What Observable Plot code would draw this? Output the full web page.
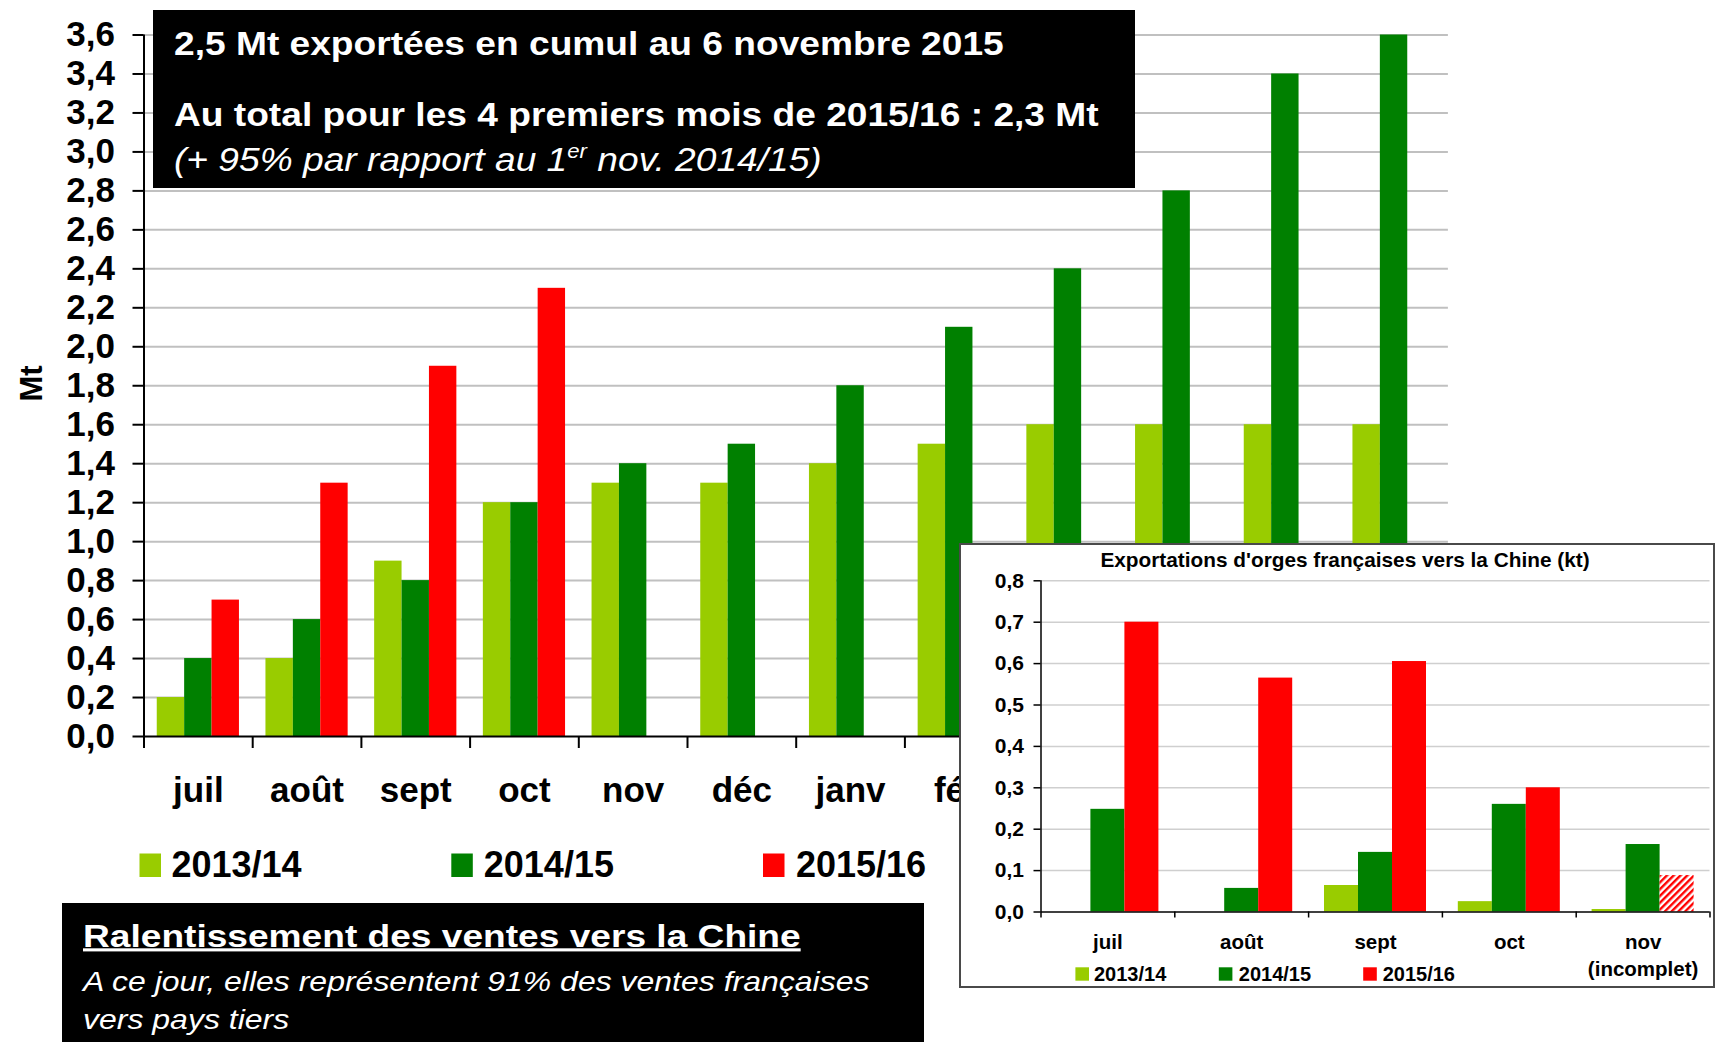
<!DOCTYPE html>
<html>
<head>
<meta charset="utf-8">
<script src="https://cdn.jsdelivr.net/npm/d3@7"></script>
<script src="https://cdn.jsdelivr.net/npm/@observablehq/plot@0.6"></script>
<style>
html, body { margin: 0; padding: 0; background: #fff; }
#root { position: relative; width: 1715px; height: 1042px; overflow: hidden; background: #fff;
  font-family: "Liberation Sans", Arial, Helvetica, sans-serif; }
#root > * { position: absolute; }
</style>
</head>
<body>
<div id="root"></div>
<script>
// ---------------- DATA ----------------
// Main chart: cumulative French barley exports to third countries (Mt)
const months = ["juil", "août", "sept", "oct", "nov", "déc", "janv", "fév", "mars", "avr", "mai", "juin"];
const seasons = ["2013/14", "2014/15", "2015/16"];
const seasonColors = ["#99cc00", "#008000", "#ff0000"];
const cumul1314 = [0.2, 0.4, 0.9, 1.2, 1.3, 1.3, 1.4, 1.5, 1.6, 1.6, 1.6, 1.6];
const cumul1415 = [0.4, 0.6, 0.8, 1.2, 1.4, 1.5, 1.8, 2.1, 2.4, 2.8, 3.4, 3.6];
const cumul1516 = [0.7, 1.3, 1.9, 2.3, null, null, null, null, null, null, null, null];
const yTicks = [0, 0.2, 0.4, 0.6, 0.8, 1.0, 1.2, 1.4, 1.6, 1.8, 2.0, 2.2, 2.4, 2.6, 2.8, 3.0, 3.2, 3.4, 3.6];

// Inset: exports to China (kt)
const chinaMonths = ["juil", "août", "sept", "oct", "nov"];
const chinaMonthLabels = ["juil", "août", "sept", "oct", "nov\n(incomplet)"];
const china1314 = [0, 0, 0.064, 0.025, 0.006];
const china1415 = [0.248, 0.057, 0.144, 0.26, 0.163];
const china1516 = [0.70, 0.565, 0.605, 0.30, 0.088];
const china1516Incomplete = [false, false, false, false, true];
const chinaTicks = [0, 0.1, 0.2, 0.3, 0.4, 0.5, 0.6, 0.7, 0.8];

// Texts
const box1Line1 = "2,5 Mt exportées en cumul au 6 novembre 2015";
const box1Line2 = "Au total pour les 4 premiers mois de 2015/16 : 2,3 Mt";
const box1Line3a = "(+ 95% par rapport au 1";
const box1Line3sup = "er";
const box1Line3b = " nov. 2014/15)";
const box2Title = "Ralentissement des ventes vers la Chine";
const box2Line1 = "A ce jour, elles représentent 91% des ventes françaises";
const box2Line2 = "vers pays tiers";
const yLabel = "Mt";
const insetTitle = "Exportations d'orges françaises vers la Chine (kt)";

// ---------------- SETUP ----------------
const FONT = '"Liberation Sans", Arial, Helvetica, sans-serif';
const root = d3.select("#root");
const fmt = d => d.toFixed(1).replace(".", ",");

// hatch pattern for the incomplete month
const defsSvg = root.append("svg").attr("width", 0).attr("height", 0).style("left", "0px").style("top", "0px");
const pat = defsSvg.append("defs").append("pattern")
  .attr("id", "hatch").attr("patternUnits", "userSpaceOnUse")
  .attr("width", 4.8).attr("height", 4.8).attr("patternTransform", "rotate(45)");
pat.append("rect").attr("width", 4.8).attr("height", 4.8).attr("fill", "#ffffff");
pat.append("rect").attr("width", 2.4).attr("height", 4.8).attr("fill", "#ff0000");

// ---------------- MAIN CHART ----------------
const mW = 1460, mH = 830, mLeft = 143.5, mRight = 12.1, mTop = 34.5, mBase = 736;
const mStep = (mW - mLeft - mRight) / months.length;
const mBarW = 27.4;
const mainSeries = [cumul1314, cumul1415, cumul1516];
const mainRows = seasons.map((s, k) =>
  mainSeries[k].map((v, i) => ({season: s, month: months[i], value: v})).filter(d => d.value != null));

const mainPlot = Plot.plot({
  width: mW, height: mH,
  marginLeft: mLeft, marginRight: mRight, marginTop: mTop, marginBottom: mH - mBase,
  style: {fontFamily: FONT, fontSize: "35px", fontWeight: "bold", color: "#000", background: "transparent"},
  x: {domain: months, padding: 0, round: false, axis: null},
  y: {domain: [0, 3.6], nice: false},
  color: {domain: seasons, range: seasonColors},
  marks: [
    Plot.ruleY(yTicks.filter(t => t > 0), {y: d => d, stroke: "#c0c0c0", strokeWidth: 2}),
    ...mainRows.map((rows, k) => Plot.barY(rows, {
      x: "month", y: "value", fill: "season",
      insetLeft: (mStep - mBarW) / 2, insetRight: (mStep - mBarW) / 2, dx: (k - 1) * mBarW
    })),
    Plot.ruleY([0], {y: d => d, stroke: "#000", strokeWidth: 2}),
    Plot.ruleX([months[0]], {x: d => d, dx: -mStep / 2, insetBottom: -12, stroke: "#000", strokeWidth: 2}),
    Plot.ruleX(months, {x: d => d, dx: mStep / 2, insetTop: mBase - mTop, insetBottom: -12, stroke: "#000", strokeWidth: 2}),
    Plot.axisY({ticks: yTicks, tickFormat: fmt, tickSize: 11, tickPadding: 18, strokeWidth: 2, label: null}),
    Plot.text(months, {x: d => d, text: d => d, frameAnchor: "bottom", lineAnchor: "top", dy: 41})
  ]
});
d3.select(mainPlot).style("left", "0px").style("top", "0px");
root.node().appendChild(mainPlot);

// ---------------- INSET CHART ----------------
const iX = 959, iY = 543, iW = 756, iH = 445;
const iLeft = 81.5, iRight = 5.5, iTop = 37.3, iBase = 368.5;
const iStep = (iW - iLeft - iRight) / chinaMonths.length;
const iBarW = 34;
const chinaSeries = [china1314, china1415, china1516];
const chinaRows = seasons.map((s, k) =>
  chinaSeries[k].map((v, i) => ({season: s, month: chinaMonths[i], value: v,
    incomplete: k === 2 ? china1516Incomplete[i] : false})));

const insetPlot = Plot.plot({
  width: iW, height: iH,
  marginLeft: iLeft, marginRight: iRight, marginTop: iTop, marginBottom: iH - iBase,
  style: {fontFamily: FONT, fontSize: "21px", fontWeight: "bold", color: "#000", background: "#fff"},
  x: {domain: chinaMonths, padding: 0, round: false, axis: null},
  y: {domain: [0, 0.8], nice: false},
  color: {domain: seasons, range: seasonColors},
  marks: [
    Plot.ruleY(chinaTicks.filter(t => t > 0), {y: d => d, stroke: "#cfcfcf", strokeWidth: 1.5}),
    ...chinaRows.map((rows, k) => Plot.barY(rows.filter(d => !d.incomplete), {
      x: "month", y: "value", fill: "season",
      insetLeft: (iStep - iBarW) / 2, insetRight: (iStep - iBarW) / 2, dx: (k - 1) * iBarW
    })),
    Plot.barY(chinaRows[2].filter(d => d.incomplete), {
      x: "month", y: "value", fill: "url(#hatch)",
      insetLeft: (iStep - iBarW) / 2, insetRight: (iStep - iBarW) / 2, dx: iBarW
    }),
    Plot.ruleY([0], {y: d => d, stroke: "#000", strokeWidth: 1.5}),
    Plot.ruleX([chinaMonths[0]], {x: d => d, dx: -iStep / 2, insetBottom: -6, stroke: "#000", strokeWidth: 1.5}),
    Plot.ruleX(chinaMonths, {x: d => d, dx: iStep / 2, insetTop: iBase - iTop, insetBottom: -6, stroke: "#000", strokeWidth: 1.5}),
    Plot.axisY({ticks: chinaTicks, tickFormat: fmt, tickSize: 7, tickPadding: 10, strokeWidth: 1.5, label: null}),
    Plot.text(chinaMonths, {x: d => d, text: (d, i) => chinaMonthLabels[i], frameAnchor: "bottom",
      lineAnchor: "top", dy: 18.5, lineHeight: 1.3, fontSize: 20.5})
  ]
});
d3.select(insetPlot).style("left", iX + "px").style("top", iY + "px");
root.node().appendChild(insetPlot);

root.append("div")
  .style("left", iX + "px").style("top", iY + "px")
  .style("width", iW + "px").style("height", iH + "px")
  .style("box-sizing", "border-box").style("border", "2px solid #4a4a4a")
  .style("background", "transparent");

// ---------------- OVERLAY: boxes, legends, labels ----------------
const ov = root.append("svg").attr("width", 1715).attr("height", 1042)
  .style("left", "0px").style("top", "0px").style("font-family", FONT);

// Y label
ov.append("text").attr("transform", "translate(41.5,383.5) rotate(-90)")
  .attr("text-anchor", "middle").attr("font-size", 31).attr("font-weight", "bold").text(yLabel);

// Top black box
ov.append("rect").attr("x", 153).attr("y", 10).attr("width", 982).attr("height", 178).attr("fill", "#000");
const topScale = 1.109, topFs = 33.5;
ov.append("text").attr("transform", `translate(174,55.3) scale(${topScale},1)`)
  .attr("font-size", topFs).attr("font-weight", "bold").attr("fill", "#fff").text(box1Line1);
ov.append("text").attr("transform", `translate(174,126) scale(${topScale},1)`)
  .attr("font-size", topFs).attr("font-weight", "bold").attr("fill", "#fff").text(box1Line2);
const t3 = ov.append("text").attr("transform", `translate(174,170.5) scale(${topScale},1)`)
  .attr("font-size", topFs).attr("font-style", "italic").attr("fill", "#fff");
t3.append("tspan").text(box1Line3a);
t3.append("tspan").attr("font-size", 20).attr("dy", -13).text(box1Line3sup);
t3.append("tspan").attr("font-size", topFs).attr("dy", 13).text(box1Line3b);

// Bottom black box
ov.append("rect").attr("x", 62).attr("y", 903).attr("width", 862).attr("height", 145).attr("fill", "#000");
ov.append("text").attr("transform", "translate(83,946.5) scale(1.197,1)")
  .attr("font-size", 31).attr("font-weight", "bold").attr("fill", "#fff")
  .attr("text-decoration", "underline").style("text-decoration", "underline").text(box2Title);
ov.append("text").attr("transform", "translate(83,991) scale(1.185,1)")
  .attr("font-size", 27).attr("font-style", "italic").attr("fill", "#fff").text(box2Line1);
ov.append("text").attr("transform", "translate(83,1028.5) scale(1.185,1)")
  .attr("font-size", 27).attr("font-style", "italic").attr("fill", "#fff").text(box2Line2);

// Main legend
const mainLegendSwatchX = [139.5, 451.3, 763];
const mainLegendTextX = [171.5, 483.8, 796];
seasons.forEach((s, k) => {
  ov.append("rect").attr("x", mainLegendSwatchX[k]).attr("y", 853.5).attr("width", 21.5).attr("height", 23.5)
    .attr("fill", seasonColors[k]);
  ov.append("text").attr("x", mainLegendTextX[k]).attr("y", 876.7).attr("font-size", 36)
    .attr("font-weight", "bold").text(s);
});

// Inset title
ov.append("text").attr("x", 1345).attr("y", 567.3).attr("text-anchor", "middle")
  .attr("font-size", 20.8).attr("font-weight", "bold").text(insetTitle);

// Inset legend
const insetLegendSwatchX = [1075.4, 1218.8, 1363.2];
const insetLegendTextX = [1094, 1238.8, 1382.7];
seasons.forEach((s, k) => {
  ov.append("rect").attr("x", insetLegendSwatchX[k]).attr("y", 967.3).attr("width", 13.6).attr("height", 13.4)
    .attr("fill", seasonColors[k]);
  ov.append("text").attr("x", insetLegendTextX[k]).attr("y", 980.7).attr("font-size", 20)
    .attr("font-weight", "bold").text(s);
});
</script>
</body>
</html>
